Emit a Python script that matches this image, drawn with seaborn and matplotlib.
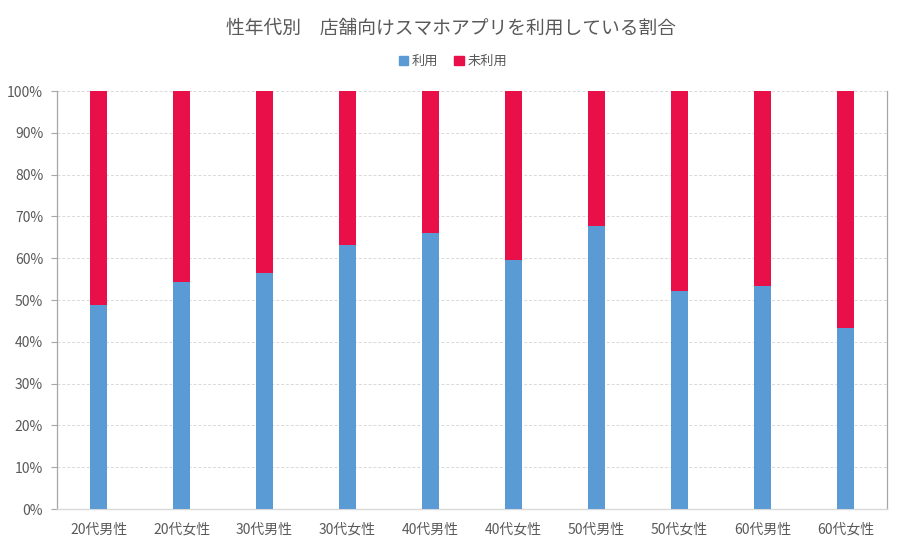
import pandas as pd
import seaborn as sns
import matplotlib.pyplot as plt
from matplotlib.patches import Patch

# data (percent)
categories = ['20代男性', '20代女性', '30代男性', '30代女性', '40代男性',
              '40代女性', '50代男性', '50代女性', '60代男性', '60代女性']
used = [48.8, 54.3, 56.5, 63.2, 66.0, 59.6, 67.7, 52.2, 53.4, 43.3]
not_used = [100 - u for u in used]

df = pd.DataFrame({'group': categories, 'used': used, 'not_used': not_used})
df['total'] = df['used'] + df['not_used']

sns.set_style('white')
plt.rcParams['font.family'] = ['Noto Sans CJK JP', 'DejaVu Sans']

blue = '#5B9BD5'
red = '#E90F48'
txt = '#595959'

fig = plt.figure(figsize=(9.01, 5.51), dpi=100)
ax = fig.add_axes([0.0633, 0.0762, 0.9212, 0.7586])

# stacked bars: full height in red, used part in blue on top
sns.barplot(data=df, x='group', y='total', color=red, width=0.2,
            saturation=1, linewidth=0, ax=ax, zorder=3)
sns.barplot(data=df, x='group', y='used', color=blue, width=0.2,
            saturation=1, linewidth=0, ax=ax, zorder=4)

ax.set_ylim(0, 100)
ax.set_xlim(-0.5, len(categories) - 0.5)
ax.set_yticks(range(0, 101, 10))
ax.set_yticklabels([f'{v}%' for v in range(0, 101, 10)])
ax.set_xlabel('')
ax.set_ylabel('')
ax.yaxis.grid(True, color='#D9D9D9', linestyle=(0, (3, 2)), linewidth=0.7, zorder=0)
ax.tick_params(axis='y', colors=txt, labelsize=10, length=4, width=0.8,
               left=True, color='#A6A6A6', pad=6)
ax.tick_params(axis='x', colors=txt, labelsize=10, length=0, pad=10)

for s in ['left', 'right']:
    ax.spines[s].set_color('#A6A6A6')
    ax.spines[s].set_linewidth(0.9)
ax.spines['bottom'].set_color('#D9D9D9')
ax.spines['bottom'].set_linewidth(1.0)
ax.spines['top'].set_visible(False)

fig.suptitle('性年代別\u3000店舗向けスマホアプリを利用している割合', y=0.968,
             fontsize=13.5, color=txt)

handles = [Patch(color=blue, label='利用'), Patch(color=red, label='未利用')]
fig.legend(handles=handles, loc='center', bbox_to_anchor=(0.503, 0.888), ncol=2,
           frameon=False, fontsize=9.5, labelcolor=txt, handlelength=0.7,
           handleheight=0.7, handletextpad=0.3, columnspacing=1.2)

fig.savefig('out.png', dpi=100)
